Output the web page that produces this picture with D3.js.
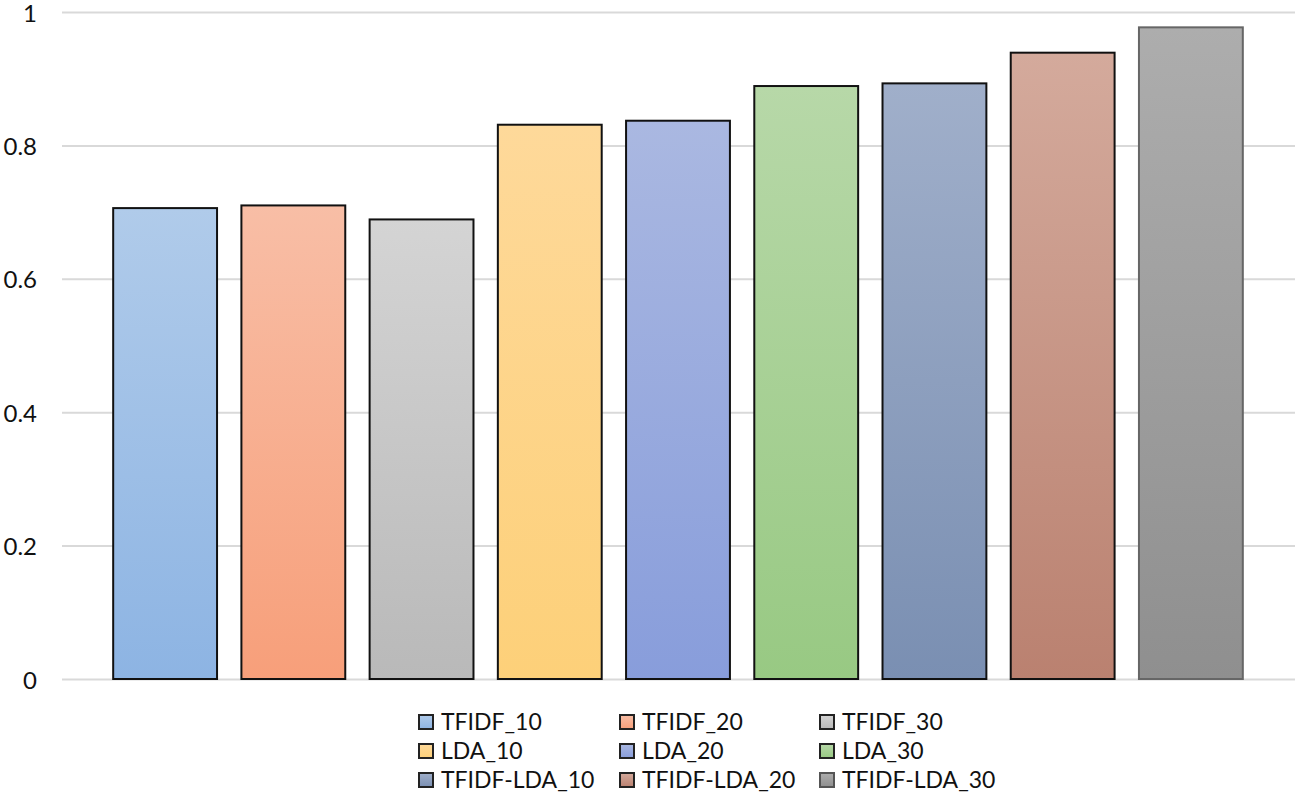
<!DOCTYPE html>
<html><head><meta charset="utf-8">
<script src="https://cdn.jsdelivr.net/npm/d3@7"></script>
<style>body{margin:0;background:#fff;} svg{display:block;}</style>
</head><body>
<svg id="chart" width="1299" height="799"></svg>
<script>
const categories = ["TFIDF_10","TFIDF_20","TFIDF_30","LDA_10","LDA_20","LDA_30","TFIDF-LDA_10","TFIDF-LDA_20","TFIDF-LDA_30"];
const values = [0.706, 0.710, 0.689, 0.831, 0.837, 0.889, 0.893, 0.939, 0.977];
const colorsTop = ["#b0cbea","#f8bea6","#d4d4d4","#fed99a","#aab8e1","#b7d8a8","#a0afca","#d4aa9c","#adadad"];
const colorsBottom = ["#8db4e3","#f79f7a","#b9b9b9","#fdd079","#889ddb","#98c983","#7a8fb2","#ba8170","#8f8f8f"];
const strokes = ["#111","#111","#111","#111","#111","#111","#111","#111","#666"];
const yTicks = [0, 0.2, 0.4, 0.6, 0.8, 1];
const yTickLabels = ["0","0.2","0.4","0.6","0.8","1"];

const svg = d3.select("#chart");
const font = "Lato, 'Open Sans', sans-serif";
const x = d3.scaleBand().domain(categories).range([101, 1255]).paddingInner(0.19).paddingOuter(0.095);
const y = d3.scaleLinear().domain([0, 1]).range([679, 12]);

const defs = svg.append("defs");
categories.forEach((c, i) => {
  const g = defs.append("linearGradient").attr("id", "g" + i).attr("x1", 0).attr("y1", 0).attr("x2", 0).attr("y2", 1);
  g.append("stop").attr("offset", "0%").attr("stop-color", colorsTop[i]);
  g.append("stop").attr("offset", "100%").attr("stop-color", colorsBottom[i]);
});

// gridlines
const yAxis = d3.axisLeft(y).tickValues(yTicks).tickSize(-(1295 - 62)).tickFormat((d, i) => yTickLabels[i]).tickPadding(25);
const ga = svg.append("g").attr("transform", "translate(62,0)").call(yAxis);
ga.select(".domain").remove();
ga.selectAll(".tick line").attr("stroke", "#d9d9d9").attr("stroke-width", 2);
ga.selectAll(".tick text").attr("font-family", font).attr("font-size", 24).attr("fill", "#111").attr("dy", "0.38em");

// bars
svg.append("g").selectAll("rect").data(categories).join("rect")
  .attr("x", d => x(d))
  .attr("y", (d, i) => y(values[i]))
  .attr("width", x.bandwidth())
  .attr("height", (d, i) => y(0) - y(values[i]))
  .attr("fill", (d, i) => "url(#g" + i + ")")
  .attr("stroke", (d, i) => strokes[i])
  .attr("stroke-width", 2);

// legend
const colX = [418, 619, 819];
const rowY = [722, 751, 780];
const leg = svg.append("g");
categories.forEach((c, i) => {
  const col = i % 3, row = Math.floor(i / 3);
  const g = leg.append("g").attr("transform", `translate(${colX[col]},${rowY[row]})`);
  g.append("rect").attr("x", 1).attr("y", -7).attr("width", 14).attr("height", 14)
    .attr("fill", "url(#g" + i + ")").attr("stroke", strokes[i] === "#666" ? "#555" : "#222").attr("stroke-width", 2);
  g.append("text").attr("x", 23).attr("y", 0).attr("dy", "0.36em")
    .attr("font-family", font).attr("font-size", 23).attr("fill", "#111").text(c);
});
</script>
</body></html>
